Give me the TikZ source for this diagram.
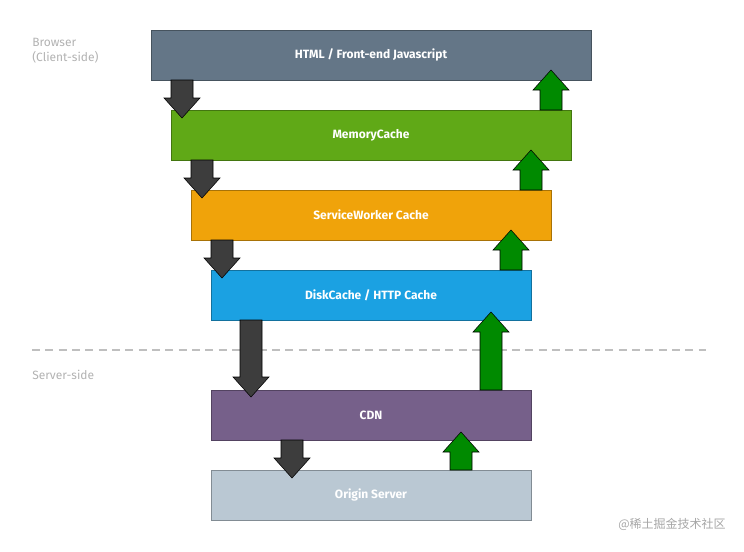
\documentclass[tikz,border=0pt]{standalone}
\usepackage{fontspec}
\setmainfont{Fira Sans}
\newfontfamily\cjk{Noto Sans CJK SC}
\usetikzlibrary{positioning}
\definecolor{htmlc}{HTML}{647687}
\definecolor{memc}{HTML}{60A917}
\definecolor{swc}{HTML}{F0A30A}
\definecolor{diskc}{HTML}{1BA1E2}
\definecolor{cdnc}{HTML}{76608A}
\definecolor{originc}{HTML}{BAC8D3}
\definecolor{downc}{HTML}{3D3D3D}
\definecolor{upc}{HTML}{008A00}
\tikzset{
  layer/.style={rectangle, draw=#1!70!black, fill=#1, minimum height=37.5pt, text=white, font=\bfseries\small, inner sep=0pt},
  side/.style={text=gray!60, font=\small, align=left, anchor=north west, inner sep=0pt},
}
% block arrow: x, start y, tip y, colour
\newcommand{\blockarr}[4]{%
  \draw[black, fill=#4, line join=miter] (#1-11,#2) -- (#1-11,{#3+(#2>#3?20:-20)}) -- (#1-18,{#3+(#2>#3?20:-20)}) -- (#1,#3)
    -- (#1+18,{#3+(#2>#3?20:-20)}) -- (#1+11,{#3+(#2>#3?20:-20)}) -- (#1+11,#2) -- cycle;}

\begin{document}
\begin{tikzpicture}[x=0.75pt,y=-0.75pt]
\useasboundingbox (0,0) rectangle (744,551);

\node (html) [layer=htmlc, minimum width=330pt] at (371,55) {HTML / Front-end Javascript};
\node (mem) [layer=memc, minimum width=300pt] at (371,135) {MemoryCache};
\node (sw) [layer=swc, minimum width=270pt] at (371,215) {ServiceWorker Cache};
\node (disk) [layer=diskc, minimum width=240pt] at (371,295) {DiskCache / HTTP Cache};
\node (cdn) [layer=cdnc, minimum width=240pt] at (371,415) {CDN};
\node (origin) [layer=originc, minimum width=240pt] at (371,495) {Origin Server};

\node (browser) [side] at (32,38) {Browser\\(Client-side)};
\node (server) [side] at (32,370) {Server-side};
\draw[gray!50, line width=1.5pt, dash pattern=on 6pt off 4pt] (32,350) -- (706,350);

\blockarr{182}{80}{118}{downc}
\blockarr{202}{160}{198}{downc}
\blockarr{222}{240}{278}{downc}
\blockarr{251}{320}{397}{downc}
\blockarr{292}{440}{478}{downc}

\blockarr{551}{110}{70}{upc}
\blockarr{531}{190}{150}{upc}
\blockarr{511}{270}{230}{upc}
\blockarr{491}{390}{312}{upc}
\blockarr{461}{470}{432}{upc}

\node (mark) [anchor=east, text=gray!70, font=\cjk\small, inner sep=0pt] at (726,524) {@稀土掘金技术社区};
\end{tikzpicture}
\end{document}
